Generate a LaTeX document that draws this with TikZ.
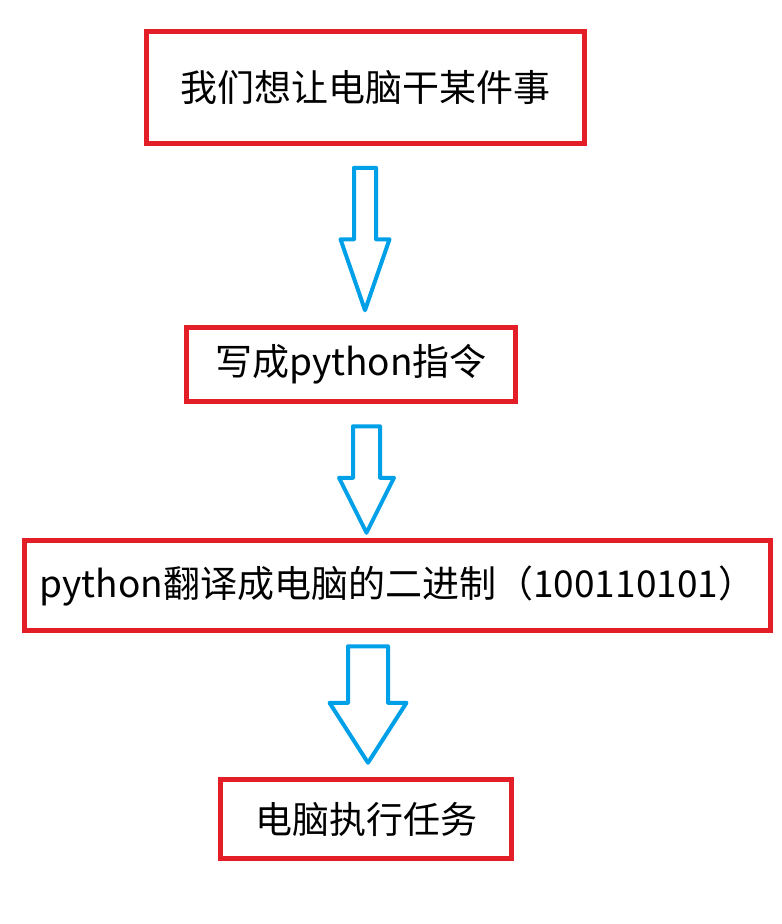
\documentclass[tikz,border=0pt]{standalone}
\usepackage{fontspec}
\setmainfont{Noto Sans CJK SC}
\usetikzlibrary{calc}
\definecolor{boxred}{RGB}{228,30,38}
\definecolor{arrowblue}{RGB}{0,160,233}
\tikzset{
  box/.style={draw=boxred,line width=4.5pt,inner sep=0pt,font=\fontsize{37pt}{44pt}\selectfont},
  hollow/.style={draw=arrowblue,line width=4pt,line join=round,fill=white}
}
\newcommand{\blockarrow}[5]{%
  \draw[hollow] let \p1=#1, \p2=#2 in
    (\x1-#3pt,\y1)--(\x1+#3pt,\y1)--(\x1+#3pt,\y2+#5pt)--(\x1+#4pt,\y2+#5pt)
    --(\x1,\y2)--(\x1-#4pt,\y2+#5pt)--(\x1-#3pt,\y2+#5pt)--cycle;
}
\begin{document}
\begin{tikzpicture}[x=1pt,y=-1pt]
  \useasboundingbox (0,0) rectangle (782,924);
  \node[box,minimum width=438pt,minimum height=112pt] (want) at (365.5,87.5) {我们想让电脑干某件事};
  \node[box,minimum width=329pt,minimum height=74pt] (write) at (351,364.5) {写成python指令};
  \node[box,minimum width=746pt,minimum height=90pt] (translate) at (397.5,585.5) {python翻译成电脑的二进制（100110101）};
  \node[box,minimum width=291pt,minimum height=79pt] (run) at (366,819) {电脑执行任务};
  \blockarrow{($(want.south)+(-0.5,22)$)}{($(write.north)+(0,-15)$)}{11}{24.5}{71}
  \blockarrow{($(write.south)+(15.5,22.5)$)}{($(translate.north)+(0,-5.5)$)}{13.5}{27.5}{55}
  \blockarrow{($(translate.south)+(-29.5,13.5)$)}{($(run.north)+(0,-14.5)$)}{20}{38.5}{60}
\end{tikzpicture}
\end{document}
